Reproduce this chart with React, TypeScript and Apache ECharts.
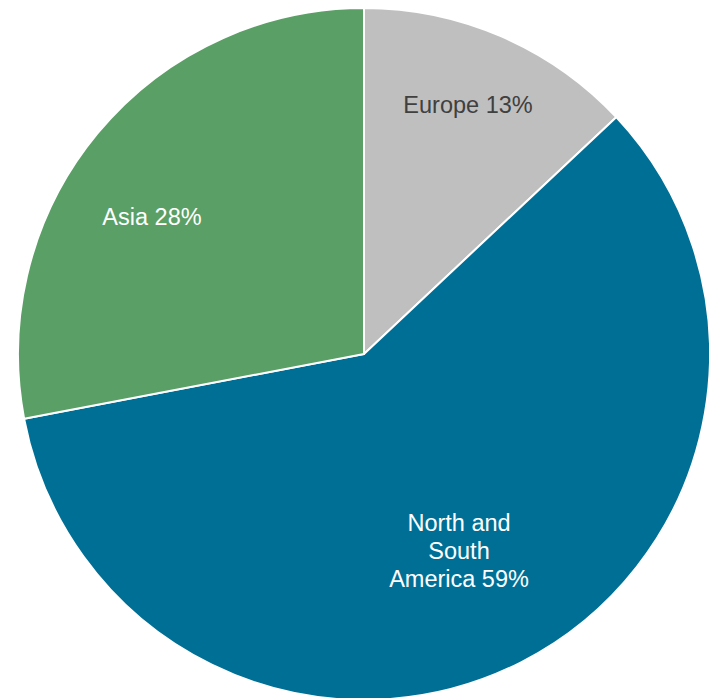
import React, { useEffect, useRef } from "react";
import * as echarts from "echarts";

const categories = ["Europe", "North and\nSouth\nAmerica", "Asia"];
const values = [13, 59, 28];
const colors = ["#BFBFBF", "#006F96", "#5A9F65"];
const labelColors = ["#404040", "#FFFFFF", "#FFFFFF"];
// label anchor points (style/layout)
const labelPos = [
  [468, 105],
  [459, 551],
  [152, 217],
];

export default function App() {
  const ref = useRef<HTMLDivElement>(null);
  useEffect(() => {
    document.body.style.margin = "0";
    const chart = echarts.init(ref.current!, null, { renderer: "svg" });
    chart.setOption({
      animation: false,
      series: [
        {
          type: "pie",
          center: [364, 354],
          radius: [0, 346],
          startAngle: 90,
          clockwise: true,
          avoidLabelOverlap: false,
          itemStyle: { borderColor: "#FFFFFF", borderWidth: 2 },
          label: {
            show: true,
            position: "inside",
            fontFamily: "Liberation Sans, Arial, sans-serif",
            fontSize: 23.5,
            lineHeight: 28,
            align: "center",
            formatter: (p: any) => `${p.name} ${p.value}%`,
          },
          labelLine: { show: false },
          labelLayout: (p: any) => ({
            x: labelPos[p.dataIndex][0],
            y: labelPos[p.dataIndex][1],
          }),
          data: categories.map((c, i) => ({
            name: c,
            value: values[i],
            itemStyle: { color: colors[i] },
            label: { color: labelColors[i] },
          })),
        },
      ],
    });
    return () => chart.dispose();
  }, []);
  return (
    <div
      ref={ref}
      style={{ position: "absolute", left: 0, top: 0, width: 709, height: 698 }}
    />
  );
}
